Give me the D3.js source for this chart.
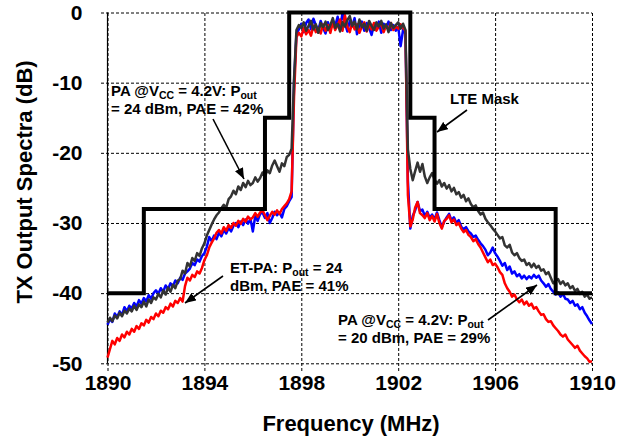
<!DOCTYPE html>
<html><head><meta charset="utf-8">
<script src="https://cdn.jsdelivr.net/npm/d3@7"></script>
<style>
body{margin:0;background:#fff}
svg{display:block;background:#fff}
text{font-family:Arial,"Liberation Sans",sans-serif;font-weight:bold;fill:#000}
</style></head>
<body><svg id="c" width="631" height="442"></svg>
<script>
// ---- data ----
const freqStart = 1890, freqStep = 0.1;   // sampling grid of the traces (MHz)
const xTicks = [1890, 1894, 1898, 1902, 1906, 1910];
const yTicks = [0, -10, -20, -30, -40, -50];

const maskFreq  = [1890, 1891.5, 1896.5, 1897.5, 1902.5, 1903.5, 1908.5, 1910];
const maskLevel = [-40, -28, -15, 0, -15, -28, -40, -40];

// PA @Vcc=4.2V, Pout=24 dBm (dark grey)
const pa24 = [
-44.2,-43.5,-44.0,-43.2,-43.6,-42.8,-43.3,-42.5,-42.9,-42.2,
-42.6,-41.8,-42.4,-41.6,-42.0,-41.2,-41.9,-40.9,-41.4,-40.6,
-40.9,-40.1,-40.6,-39.6,-40.2,-39.2,-39.8,-38.8,-39.3,-38.2,
-38.0,-36.8,-37.2,-35.7,-36.2,-35.0,-35.4,-34.3,-34.7,-33.6,
-32.9,-31.8,-31.0,-30.2,-29.5,-28.9,-28.5,-27.9,-27.4,-27.8,
-26.6,-26.2,-25.4,-25.9,-24.8,-25.3,-24.3,-24.9,-24.0,-24.6,
-24.3,-23.5,-24.1,-23.6,-22.8,-23.4,-22.5,-22.9,-21.8,-21.1,
-21.9,-22.7,-21.5,-21.9,-20.6,-20.3,-19.4,-9.5,
-2.5,-1.8,-2.2,-1.4,-2.6,-1.9,-1.2,-2.4,-1.7,-2.9,-1.5,-2.1,
-1.3,-2.5,-1.8,-0.8,-2.2,-1.6,-2.7,-1.4,-2.0,-1.1,
-0.5,-1.9,-1.3,-2.4,-1.0,-2.1,-1.6,-2.6,-1.2,-1.9,
-2.5,-1.4,-2.0,-1.2,-2.3,-1.7,-2.8,-1.5,-2.2,-1.8,
-1.4,-2.3,-1.6,-2.5,
-19.5,-22.3,-23.9,-22.6,-21.4,-22.7,
-21.6,-23.4,-24.3,-23.5,-22.9,-23.8,-24.4,-23.9,-24.8,-24.3,
-25.1,-24.6,-25.5,-25.0,-25.9,-25.6,-26.4,-26.0,-26.9,-26.5,
-27.3,-27.8,-27.5,-28.3,-28.8,-28.5,-29.4,-29.9,-30.3,-30.8,
-31.2,-31.7,-32.2,-32.0,-33.2,-33.5,-33.1,-34.2,-34.6,-34.3,
-35.0,-35.4,-35.2,-36.0,-35.7,-36.3,-35.8,-36.4,-36.1,-36.8,
-36.6,-37.3,-37.0,-37.8,-38.6,-38.2,-38.0,-38.7,-38.3,-38.9,
-38.6,-39.3,-39.0,-39.7,-39.4,-40.1,-39.8,-40.5,-40.2,-40.8,-40.6
];
// PA @Vcc=4.2V, Pout=20 dBm (blue)
const pa20 = [
-44.5,-43.7,-44.1,-42.9,-43.4,-42.6,-43.1,-42.0,-42.6,-41.8,
-42.2,-41.4,-41.9,-41.0,-41.5,-40.7,-41.2,-40.3,-40.8,-40.0,
-39.6,-40.1,-39.3,-39.8,-38.9,-39.4,-38.6,-39.0,-38.2,-38.6,
-37.8,-38.1,-37.2,-36.9,-36.5,-35.7,-36.0,-35.2,-35.5,-34.7,
-34.3,-33.4,-32.0,-32.6,-31.8,-32.3,-31.4,-31.9,-31.0,-31.5,
-30.7,-31.2,-30.4,-30.0,-30.6,-29.8,-30.3,-29.5,-30.1,-29.4,
-31.2,-29.0,-29.7,-28.7,-28.5,-29.3,-28.6,-30.0,-29.3,-28.4,
-28.9,-28.5,-29.2,-28.0,-27.6,-26.9,-26.3,-10.0,
-3.0,-2.4,-1.6,-2.8,-1.5,-1.0,-2.4,-0.9,-1.8,-2.6,-1.2,-2.2,
-3.0,-1.4,-2.5,-1.1,-1.9,-0.6,-2.3,-0.1,-1.5,-2.7,
-1.2,-2.0,-0.8,-3.1,-2.0,-1.3,-2.6,-1.5,-2.2,-3.2,
-1.7,-2.4,-1.3,-2.9,-1.6,-2.1,-1.3,-2.5,-1.8,-2.6,
-2.0,-4.8,-2.5,-3.0,
-24.0,-30.8,-29.0,-28.2,-27.0,-28.3,
-28.1,-29.0,-28.4,-29.3,-28.8,-29.5,-28.5,-29.6,-30.6,-29.8,
-29.2,-28.7,-29.6,-29.2,-30.0,-29.6,-30.5,-30.9,-30.6,-31.2,
-31.5,-32.0,-31.8,-32.4,-32.9,-33.3,-33.8,-34.6,-34.2,-33.5,
-34.3,-34.8,-35.4,-36.1,-35.7,-36.7,-36.2,-37.2,-36.9,-37.6,
-37.3,-37.9,-37.5,-38.0,-37.6,-37.9,-37.4,-37.8,-37.5,-38.2,
-38.6,-39.1,-38.7,-39.4,-39.8,-40.2,-39.9,-40.5,-40.1,-40.8,
-40.9,-41.4,-41.1,-41.8,-41.6,-42.3,-42.0,-42.8,-43.3,-43.9,-44.4
];
// ET-PA, Pout=24 dBm (red)
const etpa = [
-49.2,-48.0,-46.8,-47.3,-46.4,-46.8,-45.9,-46.3,-45.5,-45.9,
-45.1,-45.5,-44.7,-45.1,-44.3,-44.6,-43.8,-44.2,-43.4,-43.7,
-42.9,-43.3,-42.5,-42.8,-42.0,-42.3,-41.5,-41.9,-41.1,-41.4,
-40.7,-41.2,-39.0,-37.8,-38.2,-37.4,-37.7,-36.9,-37.2,-36.4,
-35.3,-34.6,-33.5,-32.8,-32.2,-31.4,-31.0,-31.5,-30.6,-31.1,
-30.3,-30.7,-30.0,-30.4,-29.7,-30.1,-29.4,-29.8,-29.1,-29.5,
-29.2,-28.6,-29.1,-28.5,-28.2,-28.9,-29.6,-29.0,-28.4,-28.8,
-28.2,-28.7,-28.0,-27.6,-27.2,-26.6,-25.5,-12.0,
-3.5,-2.9,-3.4,-2.2,-3.1,-2.5,-3.3,-1.9,-2.8,-2.3,-3.0,-1.7,
-2.6,-1.8,-2.9,-1.4,-2.5,-1.8,-1.0,-2.6,-0.4,-2.0,
-2.8,-1.5,-2.4,-1.7,-2.9,-2.0,-1.4,-2.7,-1.8,-2.4,
-1.5,-2.6,-2.0,-1.6,-2.8,-1.9,-2.4,-1.5,-2.5,-2.0,
-2.3,-1.7,-2.2,-2.6,
-26.0,-30.5,-29.5,-27.8,-27.0,-28.6,
-28.9,-29.3,-28.6,-29.6,-29.0,-29.8,-28.7,-30.0,-30.8,-29.7,
-29.4,-28.9,-29.9,-29.5,-30.3,-30.0,-30.8,-31.3,-31.0,-31.7,
-32.0,-32.6,-32.3,-33.0,-33.5,-34.2,-34.9,-35.6,-35.2,-36.0,
-35.8,-36.3,-37.0,-37.4,-38.6,-39.3,-39.8,-40.5,-40.2,-40.9,
-41.3,-40.9,-41.6,-41.2,-41.8,-41.5,-42.2,-42.0,-42.6,-43.1,
-43.0,-43.7,-44.1,-44.0,-44.6,-45.0,-45.4,-45.9,-46.2,-45.9,
-46.6,-47.0,-47.4,-47.8,-47.5,-48.2,-48.6,-49.0,-49.3,-49.8,-49.7
];

// ---- chart ----
const svg = d3.select('#c');
const x = d3.scaleLinear().domain([1890, 1910]).range([107.5, 592]);
const y = d3.scaleLinear().domain([-50, 0]).range([363.3, 12.5]);

// grid (dashed, extends outside as ticks)
const gy = svg.append('g').attr('transform', 'translate(101,0)')
  .call(d3.axisLeft(y).tickValues(yTicks).tickSize(-(592 - 101)).tickFormat(''));
const gx = svg.append('g').attr('transform', 'translate(0,371)')
  .call(d3.axisBottom(x).tickValues(xTicks).tickSize(-(371 - 12.5)).tickFormat(''));
[gx, gy].forEach(g => {
  g.select('.domain').remove();
  g.selectAll('line').attr('stroke', '#000').attr('stroke-width', 1).attr('stroke-dasharray', '3,2');
});

// left solid axis line
svg.append('line').attr('x1', x(1890)).attr('x2', x(1890)).attr('y1', y(0)).attr('y2', y(-50))
  .attr('stroke', '#000').attr('stroke-width', 1.2);

// tick labels (plain hyphen minus, as in the reference)
const fmt = d => String(d);
const ly = svg.append('g').attr('transform', 'translate(107.5,0)')
  .call(d3.axisLeft(y).tickValues(yTicks).tickSize(0).tickPadding(25).tickFormat(fmt));
const lx = svg.append('g').attr('transform', 'translate(0,363.3)')
  .call(d3.axisBottom(x).tickValues(xTicks).tickSize(0).tickPadding(12).tickFormat(fmt));
[lx, ly].forEach(g => {
  g.select('.domain').remove();
  g.selectAll('text').attr('font-size', 21).attr('font-family', 'Arial, "Liberation Sans", sans-serif')
    .attr('font-weight', 'bold').attr('fill', '#000');
});

// axis titles
svg.append('text').attr('x', 351).attr('y', 431).attr('text-anchor', 'middle')
  .attr('font-size', 22).text('Frequency (MHz)');
svg.append('text').attr('transform', 'translate(32,182) rotate(-90)').attr('text-anchor', 'middle')
  .attr('font-size', 22).text('TX Output Spectra (dB)');

// traces
const line = d3.line().x((d, i) => x(freqStart + i * freqStep)).y(d => y(d));
[[pa20, '#0000ff'], [etpa, '#ff0000'], [pa24, '#333333']].forEach(([vals, col]) => {
  svg.append('path').datum(vals).attr('d', line).attr('fill', 'none')
    .attr('stroke', col).attr('stroke-width', 2.5).attr('stroke-linejoin', 'round');
});

// LTE mask
const maskLine = d3.line().curve(d3.curveStepAfter).x((d, i) => x(maskFreq[i])).y(d => y(d));
svg.append('path').datum(maskLevel).attr('d', maskLine).attr('fill', 'none')
  .attr('stroke', '#000').attr('stroke-width', 4);

// arrow marker
svg.append('defs').append('marker').attr('id', 'ah').attr('markerUnits', 'userSpaceOnUse')
  .attr('markerWidth', 11).attr('markerHeight', 9).attr('refX', 11).attr('refY', 4.5)
  .attr('orient', 'auto').append('path').attr('d', 'M0,0 L11,4.5 L0,9 Z').attr('fill', '#000');
function arrow(x1, y1, x2, y2) {
  svg.append('line').attr('x1', x1).attr('y1', y1).attr('x2', x2).attr('y2', y2)
    .attr('stroke', '#000').attr('stroke-width', 1.6).attr('marker-end', 'url(#ah)');
}
// parts: plain strings, or [str] for a subscript
function label(x0, y0, parts) {
  const t = svg.append('text').attr('x', x0).attr('y', y0).attr('font-size', 15);
  let shifted = false;
  parts.forEach(p => {
    if (Array.isArray(p)) {
      t.append('tspan').attr('font-size', 10.5).attr('dy', shifted ? 0 : 3).text(p[0]);
      shifted = true;
    } else {
      t.append('tspan').attr('dy', shifted ? -3 : 0).text(p);
      shifted = false;
    }
  });
}

label(111, 96, ['PA @V', ['CC'], ' = 4.2V: P', ['out']]);
label(111, 113.5, ['= 24 dBm, PAE = 42%']);
arrow(213, 119, 244, 179);

label(450, 104, ['LTE Mask']);
arrow(467, 110, 437, 132);

label(230, 273, ['ET-PA: P', ['out'], ' = 24']);
label(230, 291, ['dBm, PAE = 41%']);
arrow(223, 276, 185, 303);

label(338, 325, ['PA @V', ['CC'], ' = 4.2V: P', ['out']]);
label(338, 343, ['= 20 dBm, PAE = 29%']);
arrow(488, 320, 537, 285);
</script>
</body></html>
